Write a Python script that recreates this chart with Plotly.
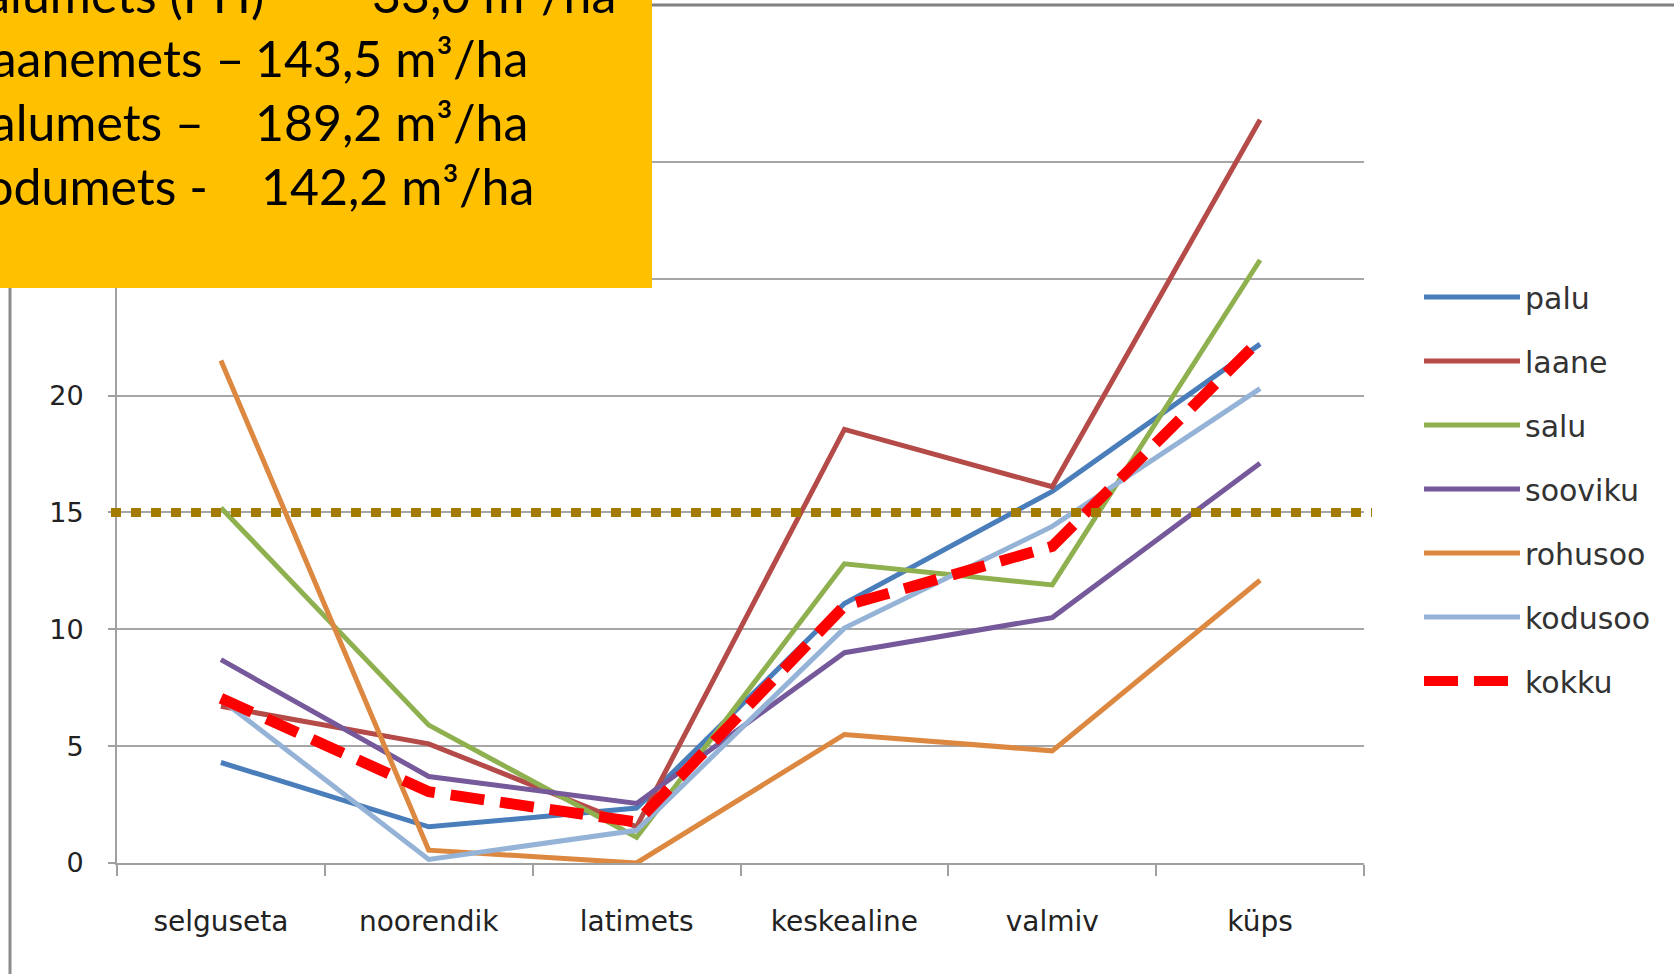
import plotly.graph_objects as go

categories = ["selguseta", "noorendik", "latimets", "keskealine", "valmiv", "küps"]
series_names = ["palu", "laane", "salu", "sooviku", "rohusoo", "kodusoo", "kokku"]
palu = [4.3, 1.55, 2.35, 11.1, 15.9, 22.2]
laane = [6.7, 5.1, 1.55, 18.55, 16.1, 31.8]
salu = [15.2, 5.9, 1.1, 12.8, 11.9, 25.8]
sooviku = [8.7, 3.7, 2.55, 9.0, 10.5, 17.1]
rohusoo = [21.5, 0.55, 0.0, 5.5, 4.8, 12.1]
kodusoo = [7.0, 0.15, 1.4, 10.05, 14.4, 20.3]
kokku = [7.05, 3.05, 1.75, 11.0, 13.55, 22.4]
reference_level = 15

y_tickvals = [0, 5, 10, 15, 20, 25, 30, 35]
y_ticktext = ["0", "5", "10", "15", "20", "", "", ""]

box_names = ["Palumets (PH)", "Laanemets –", "Salumets –", "Kodumets -"]
box_values = ["33,0 m³/ha", "143,5 m³/ha", "189,2 m³/ha", "142,2 m³/ha"]

colors = ["#4A7EBB", "#B54B48", "#8FB04F", "#75599A", "#DD8840", "#95B3D7", "#FF0000"]
values = [palu, laane, salu, sooviku, rohusoo, kodusoo, kokku]

W, H = 1674, 974
L, R, T, B = 117, 1364, 45, 863


def px_x(p):
    return (p - L) / (R - L)


def px_y(p):
    return (B - p) / (B - T)


fig = go.Figure()
for name, vals, col in zip(series_names, values, colors):
    is_total = name == "kokku"
    fig.add_trace(go.Scatter(
        x=categories, y=vals, name=name, mode="lines",
        legendgroup=name,
        line=dict(color=col, width=11 if is_total else 5,
                  dash="34px,16px" if is_total else "solid"),
    ))

shapes = [
    # reference level line
    dict(type="line", xref="paper", yref="y", x0=px_x(111), x1=px_x(1372),
         y0=reference_level, y1=reference_level,
         line=dict(color="#A27B00", width=9, dash="10px,10px"), layer="above"),
    # yellow box
    dict(type="rect", xref="paper", yref="paper", x0=px_x(-10), x1=px_x(652),
         y0=px_y(288), y1=px_y(-10), fillcolor="#FFC000", line=dict(width=0), layer="above"),
    # frame lines
    dict(type="line", xref="paper", yref="paper", x0=px_x(10), x1=px_x(10),
         y0=px_y(280), y1=px_y(980), line=dict(color="#8C8C8C", width=3), layer="below"),
    dict(type="line", xref="paper", yref="paper", x0=px_x(640), x1=px_x(1680),
         y0=px_y(5), y1=px_y(5), line=dict(color="#808080", width=3), layer="below"),
]

name_right = [266, 246, 206, 210]
value_left = [370, 253, 253, 259]
centers = [-6, 58, 122, 186]
annotations = []
for nm, val, xr, xl, cy in zip(box_names, box_values, name_right, value_left, centers):
    annotations.append(dict(text=nm, xref="paper", yref="paper", x=px_x(xr), y=px_y(cy),
                            xanchor="right", yanchor="middle", showarrow=False,
                            font=dict(family="Lato", size=50, color="#000000")))
    annotations.append(dict(text=val, xref="paper", yref="paper", x=px_x(xl), y=px_y(cy),
                            xanchor="left", yanchor="middle", showarrow=False,
                            font=dict(family="Lato", size=50, color="#000000")))

fig.update_layout(
    width=W, height=H,
    margin=dict(l=L, r=W - R, t=T, b=H - B, pad=0),
    paper_bgcolor="white", plot_bgcolor="white",
    font=dict(family="DejaVu Sans", size=27, color="#222222"),
    shapes=shapes, annotations=annotations,
    legend=dict(x=px_x(1419), y=px_y(271), xanchor="left", yanchor="top",
                font=dict(family="DejaVu Sans", size=30, color="#333333"),
                itemwidth=96, tracegroupgap=22, bgcolor="rgba(0,0,0,0)"),
    showlegend=True,
)
fig.update_xaxes(
    type="category", range=[-0.5, 5.5], showgrid=False,
    showline=True, linecolor="#A0A0A0", linewidth=2,
    ticks="outside", tickson="boundaries", ticklen=11, tickcolor="#A0A0A0", tickwidth=2,
    tickfont=dict(family="DejaVu Sans", size=28, color="#222222"),
    ticklabelstandoff=32,
)
fig.update_yaxes(
    range=[0, 35], tickvals=y_tickvals, ticktext=y_ticktext,
    showgrid=True, gridcolor="#A6A6A6", gridwidth=2,
    showline=True, linecolor="#A0A0A0", linewidth=2, zeroline=False,
    ticks="outside", ticklen=7, tickcolor="#A0A0A0", tickwidth=2,
    tickfont=dict(family="DejaVu Sans", size=27, color="#222222"),
    ticklabelstandoff=19,
)

fig.write_html("out.html", config={"displayModeBar": False},
               post_script="document.body.style.margin='0';document.body.style.overflow='hidden';")
